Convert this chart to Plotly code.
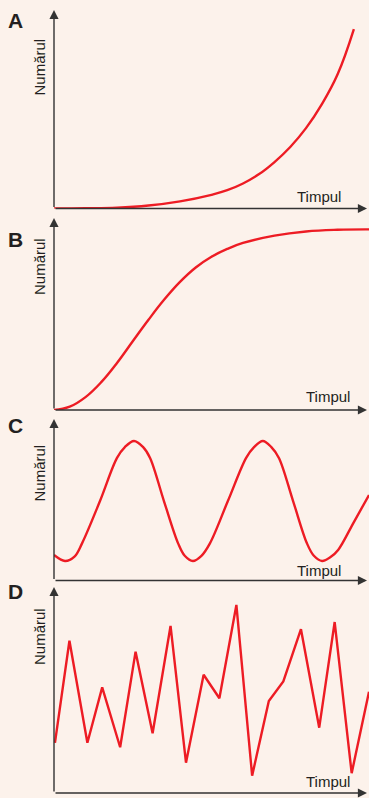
import plotly.graph_objects as go

# Panel A - exponential growth
a_t = [0, 1, 2, 3, 4, 5, 5.5, 6, 6.5, 7, 7.5, 8, 8.5, 9, 9.52]
a_n = [0, 0.1, 0.4, 1.5, 3.6, 6.9, 9.2, 12.6, 17.2, 23.4, 31.0, 40.5, 52.5, 67.5, 90.4]

# Panel B - logistic growth
b_t = [0, 0.5, 1.0, 1.5, 2.0, 2.5, 3.0, 3.5, 4.0, 4.5, 5.0, 5.5, 6.0, 7.0, 8.0, 9.0, 10.0]
b_n = [0, 1.7, 6.7, 14.5, 24.5, 35.8, 47, 57.5, 66.7, 74.2, 79.8, 83.9, 87, 90.8, 93.0, 93.9, 94.1]

# Panel C - cycles
c_t = [0, 0.35, 0.65, 0.89, 1.46, 2.0, 2.25, 2.54, 2.83, 3.05, 3.49, 3.94, 4.15,
       4.41, 4.68, 4.95, 5.52, 6.10, 6.35, 6.63, 6.90, 7.14, 7.59, 8.03, 8.25,
       8.51, 8.78, 9.02, 9.52, 10.0]
c_n = [15.8, 12.1, 14.8, 23.0, 49.2, 75.9, 82.6, 86.4, 82.6, 75.9, 49.2, 23.0, 15.3,
       12.1, 15.3, 23.0, 49.2, 75.9, 82.6, 86.4, 82.6, 75.9, 49.2, 23.0, 15.3,
       12.1, 14.5, 18.9, 36.2, 52.9]

# Panel D - irregular fluctuations
d_t = [0.03, 0.49, 1.06, 1.53, 2.10, 2.59, 3.13, 3.70, 4.19, 4.75, 5.25,
       5.79, 6.29, 6.82, 7.28, 7.84, 8.42, 8.91, 9.45, 10.0]
d_n = [24.3, 73.9, 24.4, 51.3, 22.2, 68.6, 29.0, 81.1, 14.7, 57.4, 46.0,
       91.3, 8.4, 44.7, 54.2, 79.5, 31.7, 83.0, 9.6, 49.2]

panel_labels = ["A", "B", "C", "D"]
x_title = "Timpul"
y_title = "Numărul"

W, H = 369, 798
BG = "#fcf2eb"
RED = "#ed1c24"
INK = "#231f20"
AXIS = "#333333"
FONT = "Liberation Sans, Arial, sans-serif"

# pixel geometry of each panel: (bottom, top) of y axis
panels_px = [(208.5, 10), (410, 218), (580.5, 419), (793, 587)]
x_left, x_tip = 54, 367
# text positions (pixels)
timpul_px = [(343, 197), (352, 396), (343, 570), (352, 781)]
numarul_px = [(39, 67.5), (39, 267), (39, 473.5), (39, 637)]
letter_px = [(15.5, 20), (15, 239), (15.5, 425), (15.5, 591)]

series = [(a_t, a_n, "spline", 1.2), (b_t, b_n, "spline", 1.2),
          (c_t, c_n, "spline", 1.0), (d_t, d_n, "linear", None)]

fig = go.Figure()
annotations = []
layout_axes = {}

for i, (t, n, shape, smooth) in enumerate(series):
    k = "" if i == 0 else str(i + 1)
    line = dict(color=RED, width=2.4, shape=shape)
    if smooth:
        line["smoothing"] = smooth
    fig.add_trace(go.Scatter(x=t, y=n, mode="lines", xaxis="x" + k, yaxis="y" + k,
                             line=line, hoverinfo="skip", showlegend=False))
    bottom, top = panels_px[i]
    layout_axes["xaxis" + k] = dict(domain=[x_left / W, 1], range=[0, 10],
                                    visible=False, fixedrange=True, anchor="y" + k)
    layout_axes["yaxis" + k] = dict(domain=[1 - bottom / H, 1 - top / H], range=[0, 100],
                                    visible=False, fixedrange=True, anchor="x" + k)
    xr, yr = "x" + k + " domain", "y" + k + " domain"
    # y axis arrow
    annotations.append(dict(x=0, y=1, xref=xr, yref=yr, ax=0, ay=0, axref=xr, ayref=yr,
                            showarrow=True, arrowhead=2, arrowsize=1.3, arrowwidth=1.4,
                            arrowcolor=AXIS, text=""))
    # x axis arrow
    annotations.append(dict(x=(x_tip - x_left) / (W - x_left), y=0, xref=xr, yref=yr,
                            ax=0, ay=0, axref=xr, ayref=yr,
                            showarrow=True, arrowhead=2, arrowsize=1.3, arrowwidth=1.4,
                            arrowcolor=AXIS, text=""))
    tx, ty = timpul_px[i]
    annotations.append(dict(x=tx / W, y=1 - ty / H, xref="paper", yref="paper",
                            xanchor="right", yanchor="middle", showarrow=False,
                            text=x_title, font=dict(family=FONT, size=15, color=INK)))
    nx, ny = numarul_px[i]
    annotations.append(dict(x=nx / W, y=1 - ny / H, xref="paper", yref="paper",
                            xanchor="center", yanchor="middle", showarrow=False, textangle=-90,
                            text=y_title, font=dict(family=FONT, size=15, color=INK)))
    lx, ly = letter_px[i]
    annotations.append(dict(x=lx / W, y=1 - ly / H, xref="paper", yref="paper",
                            xanchor="center", yanchor="middle", showarrow=False,
                            text="<b>" + panel_labels[i] + "</b>",
                            font=dict(family=FONT, size=21, color=INK)))

fig.update_layout(width=W, height=H, margin=dict(l=0, r=0, t=0, b=0),
                  paper_bgcolor=BG, plot_bgcolor=BG, annotations=annotations,
                  **layout_axes)

# drop the default page margin so the figure fills the window exactly
fig.write_html("out.html", config={"displayModeBar": False},
               post_script="document.body.style.margin='0';document.body.style.overflow='hidden';")
